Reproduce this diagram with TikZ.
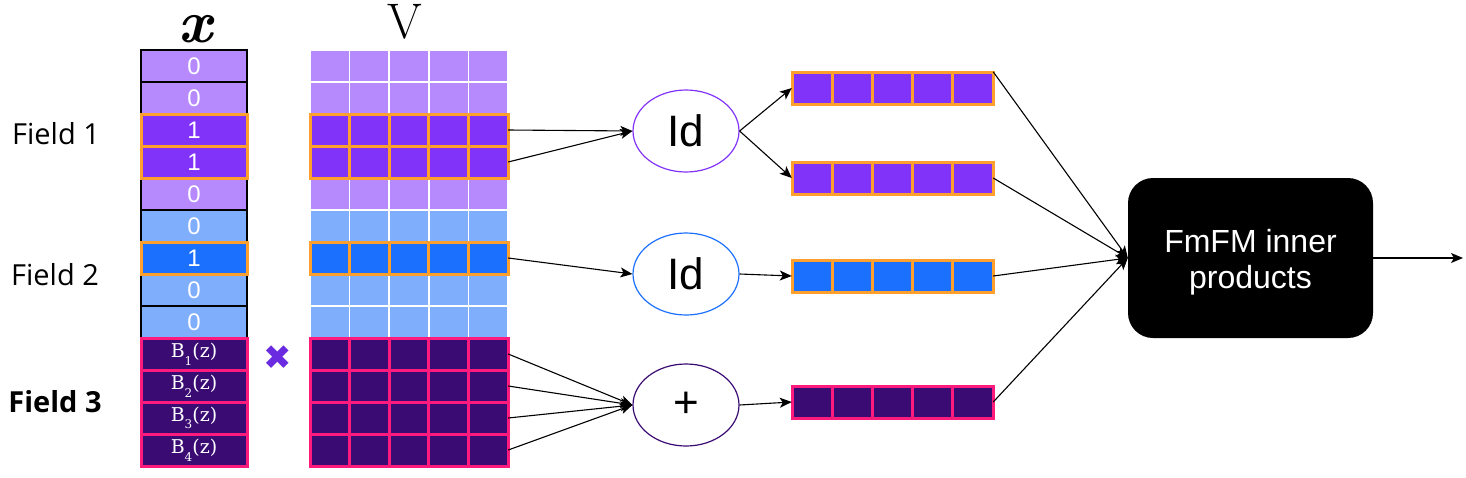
\documentclass[tikz,border=0pt]{standalone}
\usepackage{fontspec}
\setmainfont{Liberation Sans}
\newfontfamily\fieldfont{Open Sans}
\newfontfamily\bfont{DejaVu Serif}
\newfontfamily\symfont{DejaVu Sans}
\newfontfamily\lmfont{Latin Modern Roman}
\usetikzlibrary{arrows.meta,shapes.geometric}
\definecolor{lpurp}{HTML}{B68AFD}
\definecolor{mpurp}{HTML}{8133F9}
\definecolor{lblue}{HTML}{7FAEFD}
\definecolor{mblue}{HTML}{1C70FE}
\definecolor{dpurp}{HTML}{3B0B74}
\definecolor{orng}{HTML}{FFA02E}
\definecolor{pnk}{HTML}{FF1A7D}
\definecolor{crossc}{HTML}{6A2BE0}
\newcommand{\fs}[1]{\fontsize{#1}{#1}\selectfont}
\newcommand{\Bz}[1]{B\raisebox{-0.4em}{\fs{12}#1}(z)}
\tikzset{
  xcell/.style={draw=black, line width=1.2, minimum width=106, minimum height=32, inner sep=0, text=white, font=\fs{24}},
  hlcell/.style={xcell, draw=orng, line width=3},
  bcell/.style={xcell, draw=pnk, line width=3, font=\bfont\fs{19}},
  rowanchor/.style={draw=none, fill=none, minimum width=198, minimum height=32, inner sep=0},
  outanchor/.style={draw=none, fill=none, minimum width=201, minimum height=32, inner sep=0},
  lightgrid/.style={draw=white, line width=1.5},
  orgrid/.style={draw=orng, line width=3},
  pkgrid/.style={draw=pnk, line width=3},
  op/.style={ellipse, draw, line width=1.2, minimum width=106, minimum height=82, inner sep=0, font=\fs{44}},
  arr/.style={-{Stealth[length=12, width=10, inset=3]}, line width=1.1, black},
  fieldlbl/.style={font=\fieldfont\fs{29}, anchor=base, inner sep=0},
}
\begin{document}
\begin{tikzpicture}[x=1pt,y=-1pt]
\useasboundingbox (0,0) rectangle (1466,477);
% headers
\node[font=\lmfont\bfseries\itshape\fs{60}, inner sep=0, anchor=base, text height=28, text depth=0] (xlbl) at (195,42) {x};
\node[font=\lmfont\fs{50}, inner sep=0, anchor=base, text height=35, text depth=0] (vlbl) at (405,38) {V};
% field labels
\node[fieldlbl] (f1) at (56,144) {Field 1};
\node[fieldlbl] (f2) at (55,285) {Field 2};
\node[fieldlbl, font=\fieldfont\bfseries\fs{29}] (f3) at (55,412) {Field 3};
% x column: normal cells
\foreach \i/\c/\t in {0/lpurp/0,1/lpurp/0,4/lpurp/0,5/lblue/0,7/lblue/0,8/lblue/0}
  \node[xcell, fill=\c] (x\i) at (194,{66+32*\i}) {\t};
\foreach \i/\c in {2/mpurp,3/mpurp,6/mblue}
  \node[hlcell, fill=\c] (x\i) at (194,{66+32*\i}) {1};
\foreach \i/\n in {9/1,10/2,11/3,12/4}
  \node[bcell, fill=dpurp] (x\i) at (194,{66+32*\i}) {\Bz{\n}};
% V matrix cells
\foreach \i/\c in {0/lpurp,1/lpurp,4/lpurp,5/lblue,7/lblue,8/lblue}
  \foreach \j in {0,...,4}
    \draw[lightgrid, fill=\c] ({310+39.6*\j},{50+32*\i}) rectangle ++(39.6,32);
\foreach \i/\c in {2/mpurp,3/mpurp,6/mblue}
  \foreach \j in {0,...,4}
    \draw[orgrid, fill=\c] ({310+39.6*\j},{50+32*\i}) rectangle ++(39.6,32);
\foreach \i in {9,...,12}
  \foreach \j in {0,...,4}
    \draw[pkgrid, fill=dpurp] ({310+39.6*\j},{50+32*\i}) rectangle ++(39.6,32);
\foreach \i in {0,...,12}
  \node[rowanchor] (v\i) at (409,{66+32*\i}) {};
% multiplication sign
\node[font=\symfont\fs{34}, text=crossc, inner sep=0] (times) at (278,358) {✖};
% operators
\node[op, draw=mpurp] (id1) at (686,131) {Id};
\node[op, draw=mblue] (id2) at (686,274) {Id};
\node[op, draw=dpurp] (plus) at (686,405) {+};
% output vectors
\foreach \k/\y/\c/\g in {1/72/mpurp/orgrid,2/162/mpurp/orgrid,3/260/mblue/orgrid,4/386/dpurp/pkgrid}{
  \foreach \j in {0,...,4}
    \draw[\g, fill=\c] ({792+40.2*\j},\y) rectangle ++(40.2,32);
  \node[outanchor] (out\k) at (892.5,{\y+16}) {};
}
% FmFM box
\node[fill=black, rounded corners=25, minimum width=245, minimum height=160, inner sep=0] (box) at (1250.5,258) {};
\node[text=white, align=center, font=\fs{32}, inner sep=0] (boxtxt) at (1250.5,262) {FmFM inner\\[4pt]products};
\coordinate (end) at (1463,258);
% connectors
\draw[arr] (v2.east) -- (id1.west);
\draw[arr] (v3.east) -- (id1.west);
\draw[arr] (id1.east) -- (out1.west);
\draw[arr] (id1.east) -- (out2.west);
\draw[arr] (v6.east) -- (id2.west);
\draw[arr] (id2.east) -- (out3.west);
\foreach \i in {9,...,12}
  \draw[arr] (v\i.east) -- (plus.west);
\draw[arr] (plus.east) -- (out4.west);
\draw[arr] (out1.north east) -- (box.west);
\draw[arr] (out2.east) -- (box.west);
\draw[arr] (out3.east) -- (box.west);
\draw[arr] (out4.east) -- (box.west);
\draw[arr] (box.east) -- (end);
\end{tikzpicture}
\end{document}
